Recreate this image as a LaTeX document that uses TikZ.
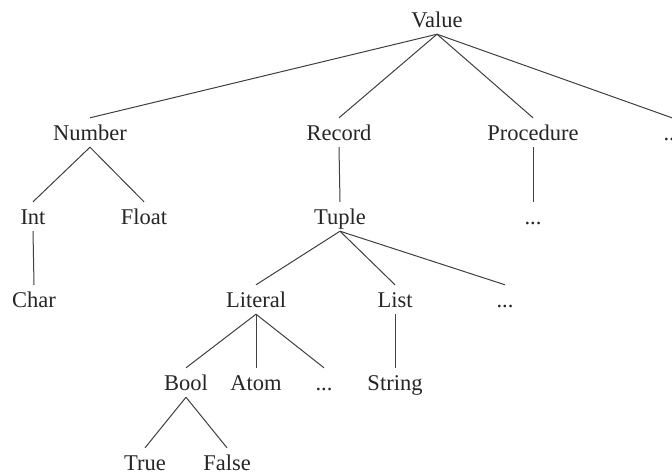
\documentclass[tikz,border=0pt]{standalone}
\usepackage{fontspec}
\setmainfont{Liberation Serif}
\begin{document}
\begin{tikzpicture}[x=1pt,y=-1pt,
  lbl/.style={anchor=base, inner xsep=0pt, inner ysep=6pt, text height=16pt, text depth=1pt,
    font=\fontsize{22.5}{25}\selectfont, text=black!85},
  edge/.style={draw=black!75, line width=1pt}]
\fill[white] (0,0) rectangle (672,474);
\useasboundingbox (0,0) rectangle (672,474);
% nodes
\node[lbl] (value) at (437,27) {Value};
\node[lbl] (number) at (90,140) {Number};
\node[lbl] (record) at (339,140) {Record};
\node[lbl] (proc) at (533,140) {Procedure};
\node[lbl] (more1) at (672,140) {...};
\node[lbl] (int) at (33,224) {Int};
\node[lbl] (float) at (144,224) {Float};
\node[lbl] (tuple) at (340,224) {Tuple};
\node[lbl] (more2) at (533,224) {...};
\node[lbl] (char) at (34,307) {Char};
\node[lbl] (literal) at (256,307) {Literal};
\node[lbl] (list) at (395,307) {List};
\node[lbl] (more3) at (505,307) {...};
\node[lbl] (bool) at (186,390) {Bool};
\node[lbl] (atom) at (256,390) {Atom};
\node[lbl] (more4) at (324,390) {...};
\node[lbl] (string) at (395,390) {String};
\node[lbl] (true) at (145,470) {True};
\node[lbl] (false) at (227,470) {False};
% edges
\draw[edge] (value.south) -- (number.north);
\draw[edge] (value.south) -- (record.north);
\draw[edge] (value.south) -- (proc.north);
\draw[edge] (value.south) -- (more1.north);
\draw[edge] (number.south) -- (int.north);
\draw[edge] (number.south) -- (float.north);
\draw[edge] (int.south) -- (char.north);
\draw[edge] (record.south) -- (tuple.north);
\draw[edge] (proc.south) -- (more2.north);
\draw[edge] (tuple.south) -- (literal.north);
\draw[edge] (tuple.south) -- (list.north);
\draw[edge] (tuple.south) -- (more3.north);
\draw[edge] (literal.south) -- (bool.north);
\draw[edge] (literal.south) -- (atom.north);
\draw[edge] (literal.south) -- (more4.north);
\draw[edge] (list.south) -- (string.north);
\draw[edge] (bool.south) -- (true.north);
\draw[edge] (bool.south) -- (false.north);
\end{tikzpicture}
\end{document}
